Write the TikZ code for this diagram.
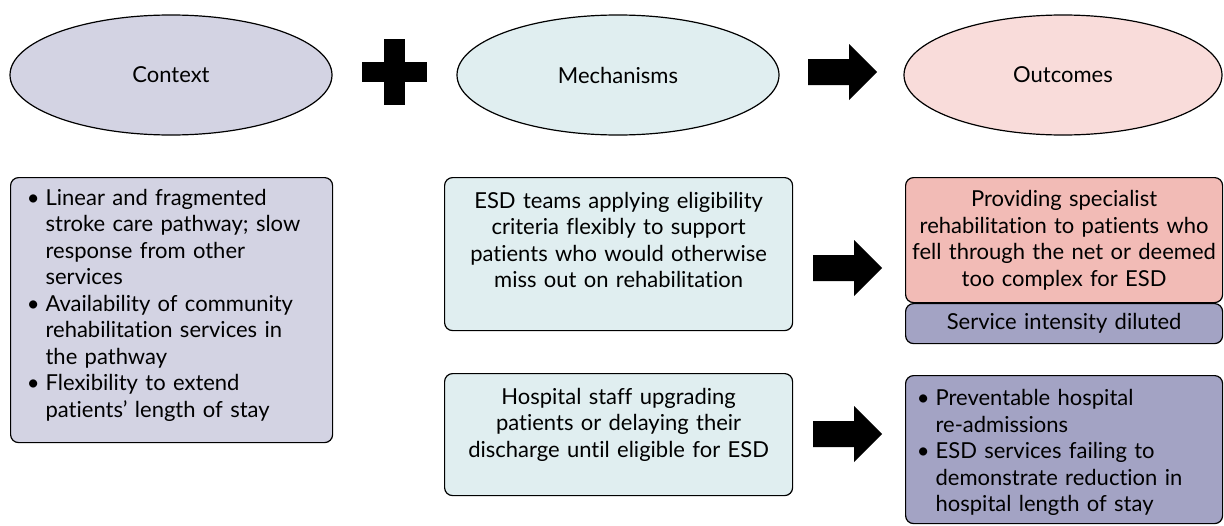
\documentclass[tikz,border=0pt]{standalone}
\usepackage{fontspec}
\setmainfont{Lato}[Ligatures=NoCommon]
\usepackage{enumitem}
\usepackage{xcolor}
\usepackage{tikz}
\usetikzlibrary{shapes.geometric}

\definecolor{ctxfill}{HTML}{D3D3E3}
\definecolor{mechfill}{HTML}{E0EEF0}
\definecolor{outfill}{HTML}{F9DCDA}
\definecolor{redfill}{HTML}{F2BBB6}
\definecolor{purplefill}{HTML}{A3A3C4}

% push the text of a box up by half the given space
\newcommand{\lift}[1]{\par\vspace{#1}\nointerlineskip\hbox{}}

\tikzset{
	oval/.style={draw, ellipse, line width=1.2pt, minimum width=322pt, minimum height=120pt, inner sep=0pt},
	box/.style={draw, rounded corners=8pt, line width=1.2pt, anchor=north west, inner ysep=0pt},
	listbox/.style={box, inner xsep=#1},
	textbox/.style={box, align=center, inner xsep=6pt}
}

\begin{document}
\begin{tikzpicture}[x=1pt, y=-1pt, font=\fontsize{22}{26.5}\selectfont]

	\useasboundingbox (0,0) rectangle (1224,525);

	% top row
	\node[oval, fill=ctxfill] (context) at (171,75) {Context};
	\node[oval, fill=mechfill] (mechanisms) at (618,75) {Mechanisms};
	\node[oval, fill=outfill, minimum width=318pt] (outcomes) at (1063,75) {Outcomes};

	\fill (362,62) rectangle (427,82);
	\fill (384,39) rectangle (405,105);

	% context
	\node[listbox=18pt, fill=ctxfill, minimum width=322pt, minimum height=265pt, text width=286pt] (ctxlist) at (10,177) {%
		\begin{itemize}[nosep, leftmargin=17pt, labelsep=6pt, label=\textbullet]
			\item Linear and fragmented\\ stroke care pathway; slow\\ response from other\\ services
			\item Availability of community\\ rehabilitation services in\\ the pathway
			\item Flexibility to extend\\ patients' length of stay
		\end{itemize}\lift{20pt}};

	% mechanisms
	\node[textbox, fill=mechfill, minimum width=348pt, minimum height=153pt, text width=336pt] (flexible) at (444,177)
		{ESD teams applying eligibility\\ criteria flexibly to support\\ patients who would otherwise\\ miss out on rehabilitation\lift{28pt}};
	\node[textbox, fill=mechfill, minimum width=348pt, minimum height=122pt, text width=336pt] (upgrading) at (444,373)
		{Hospital staff upgrading\\ patients or delaying their\\ discharge until eligible for ESD\lift{20pt}};

	% outcomes
	\node[textbox, fill=redfill, minimum width=317pt, minimum height=125pt, text width=305pt] (specialist) at (905,177)
		{Providing specialist\\ rehabilitation to patients who\\ fell through the net or deemed\\ too complex for ESD};
	\node[textbox, fill=purplefill, minimum width=317pt, minimum height=40pt, text width=305pt] (diluted) at (905,303)
		{Service intensity diluted};
	\node[listbox=13pt, fill=purplefill, minimum width=317pt, minimum height=148pt, text width=291pt] (readmit) at (905,375) {%
		\begin{itemize}[nosep, leftmargin=17pt, labelsep=6pt, label=\textbullet]
			\item Preventable hospital\\ re-admissions
			\item ESD services failing to\\ demonstrate reduction in\\ hospital length of stay
		\end{itemize}\lift{4pt}};

	% block arrows
	\def \a {808}
	\def \b {72}
	\fill (\a,\b-13)--(\a+41,\b-13)--(\a+41,\b-28)--(\a+69,\b)--(\a+41,\b+28)--(\a+41,\b+13)--(\a,\b+13)--cycle;
	\def \a {813}
	\def \b {268}
	\fill (\a,\b-13)--(\a+41,\b-13)--(\a+41,\b-28)--(\a+69,\b)--(\a+41,\b+28)--(\a+41,\b+13)--(\a,\b+13)--cycle;
	\def \a {813}
	\def \b {434}
	\fill (\a,\b-13)--(\a+41,\b-13)--(\a+41,\b-28)--(\a+69,\b)--(\a+41,\b+28)--(\a+41,\b+13)--(\a,\b+13)--cycle;

\end{tikzpicture}
\end{document}
